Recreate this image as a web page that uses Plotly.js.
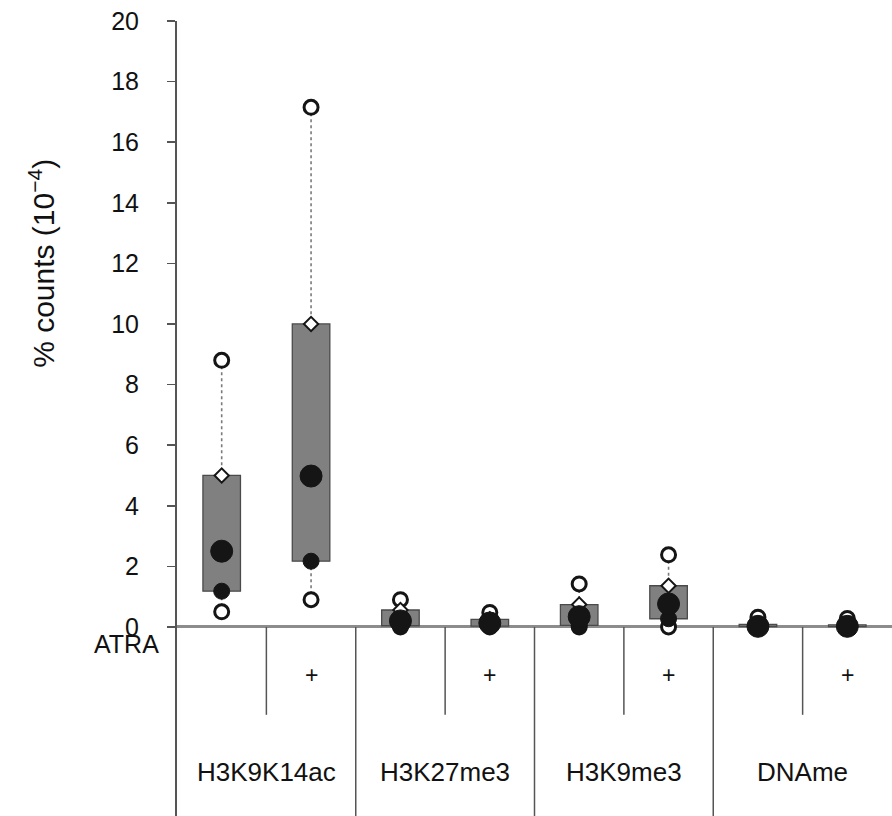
<!DOCTYPE html>
<html>
<head>
<meta charset="utf-8">
<script src="https://cdn.plot.ly/plotly-3.0.1.min.js"></script>
<style>html,body{margin:0;padding:0;background:#fff;}#chart{width:892px;height:816px;}</style>
</head>
<body>
<div id="chart"></div>
<script>
// ---- data ----
const groups = ['H3K9K14ac', 'H3K27me3', 'H3K9me3', 'DNAme'];
const atraLabels = ['', '+', '', '+', '', '+', '', '+'];
const maxV  = [8.8, 17.15, 0.9, 0.48, 1.42, 2.38, 0.32, 0.28];
const q3V   = [5.0, 10.0, 0.56, 0.25, 0.74, 1.36, 0.08, 0.07];
const meanV = [2.5, 4.98, 0.2, 0.13, 0.34, 0.76, 0.02, 0.02];
const q1V   = [1.18, 2.17, 0.04, 0.03, 0.05, 0.27, 0.01, 0.01];
const minV  = [0.5, 0.9, 0.0, 0.0, 0.0, 0.0, 0.0, 0.0];
const yTicks = [0, 2, 4, 6, 8, 10, 12, 14, 16, 18, 20];

const pos = atraLabels.map((_, i) => i);

// whisker segments (max->q3, q1->min)
const wx = [], wy = [];
pos.forEach(i => {
  wx.push(i, i, null, i, i, null);
  wy.push(maxV[i], q3V[i], null, q1V[i], minV[i], null);
});

const traces = [
  {type: 'scatter', mode: 'lines', x: wx, y: wy, connectgaps: false,
   line: {color: '#7a7a7a', width: 1.6, dash: 'dot'}, hoverinfo: 'skip', showlegend: false},
  {type: 'bar', x: pos, y: pos.map(i => q3V[i] - q1V[i]), base: q1V, width: 0.42,
   marker: {color: '#808080', line: {color: '#4a4a4a', width: 1.3}}, showlegend: false},
  {type: 'scatter', mode: 'markers', x: pos.concat(pos), y: maxV.concat(minV), cliponaxis: false,
   marker: {symbol: 'circle', size: 14, color: '#ffffff', line: {color: '#151515', width: 3}}, showlegend: false},
  {type: 'scatter', mode: 'markers', x: pos, y: q3V, cliponaxis: false,
   marker: {symbol: 'diamond', size: 11, color: '#ffffff', line: {color: '#151515', width: 2}}, showlegend: false},
  {type: 'scatter', mode: 'markers', x: pos, y: q1V, cliponaxis: false,
   marker: {symbol: 'circle', size: 16, color: '#151515', line: {color: '#151515', width: 1}}, showlegend: false},
  {type: 'scatter', mode: 'markers', x: pos, y: meanV, cliponaxis: false,
   marker: {symbol: 'circle', size: 22, color: '#151515', line: {color: '#151515', width: 1}}, showlegend: false}
];

const yBottom = -6.24;
const shapes = [];
[1.5, 3.5, 5.5].forEach(x => shapes.push({type: 'line', xref: 'x', yref: 'y', x0: x, x1: x, y0: 0, y1: yBottom,
  line: {color: '#555', width: 1.5}}));
[0.5, 2.5, 4.5, 6.5].forEach(x => shapes.push({type: 'line', xref: 'x', yref: 'y', x0: x, x1: x, y0: 0, y1: -2.9,
  line: {color: '#555', width: 1.5}}));

const font = 'Liberation Sans, Arial, sans-serif';
const txt = '#111111';
const annotations = [];
atraLabels.forEach((t, i) => { if (t) annotations.push({xref: 'x', yref: 'y', x: i, y: -1.6, text: t, showarrow: false,
  xanchor: 'center', yanchor: 'middle', font: {family: font, size: 23, color: txt}}); });
groups.forEach((g, k) => annotations.push({xref: 'x', yref: 'y', x: 2 * k + 0.5, y: -4.79, text: g, showarrow: false,
  xanchor: 'center', yanchor: 'middle', font: {family: font, size: 26, color: txt}}));
annotations.push({xref: 'paper', yref: 'y', x: -0.022, xanchor: 'right', yanchor: 'middle', y: -0.55, text: 'ATRA', showarrow: false,
  font: {family: font, size: 25, color: txt}});
annotations.push({xref: 'paper', yref: 'paper', x: -0.189, y: 0.6956, xanchor: 'center', yanchor: 'middle',
  text: '% counts (10<sup>−4</sup>)', textangle: -90,
  showarrow: false, font: {family: font, size: 30, color: txt}});

const layout = {
  width: 892, height: 816,
  margin: {l: 177, r: 0, t: 21, b: 0, pad: 0},
  paper_bgcolor: '#ffffff', plot_bgcolor: '#ffffff',
  showlegend: false,
  xaxis: {range: [-0.5, 7.5], showgrid: false, zeroline: false, showticklabels: false, ticks: '', showline: false, fixedrange: true},
  yaxis: {range: [yBottom, 20], tickvals: yTicks, ticktext: yTicks.map(String), showgrid: false,
    ticks: 'outside', ticklen: 8, tickwidth: 1.5, tickcolor: '#555', ticklabelstandoff: 23,
    showline: true, linecolor: '#555', linewidth: 2,
    zeroline: true, zerolinecolor: '#8c8c8c', zerolinewidth: 3,
    tickfont: {family: font, size: 25, color: txt}, fixedrange: true},
  shapes: shapes,
  annotations: annotations
};

Plotly.newPlot('chart', traces, layout, {displayModeBar: false, staticPlot: true});
</script>
</body>
</html>
